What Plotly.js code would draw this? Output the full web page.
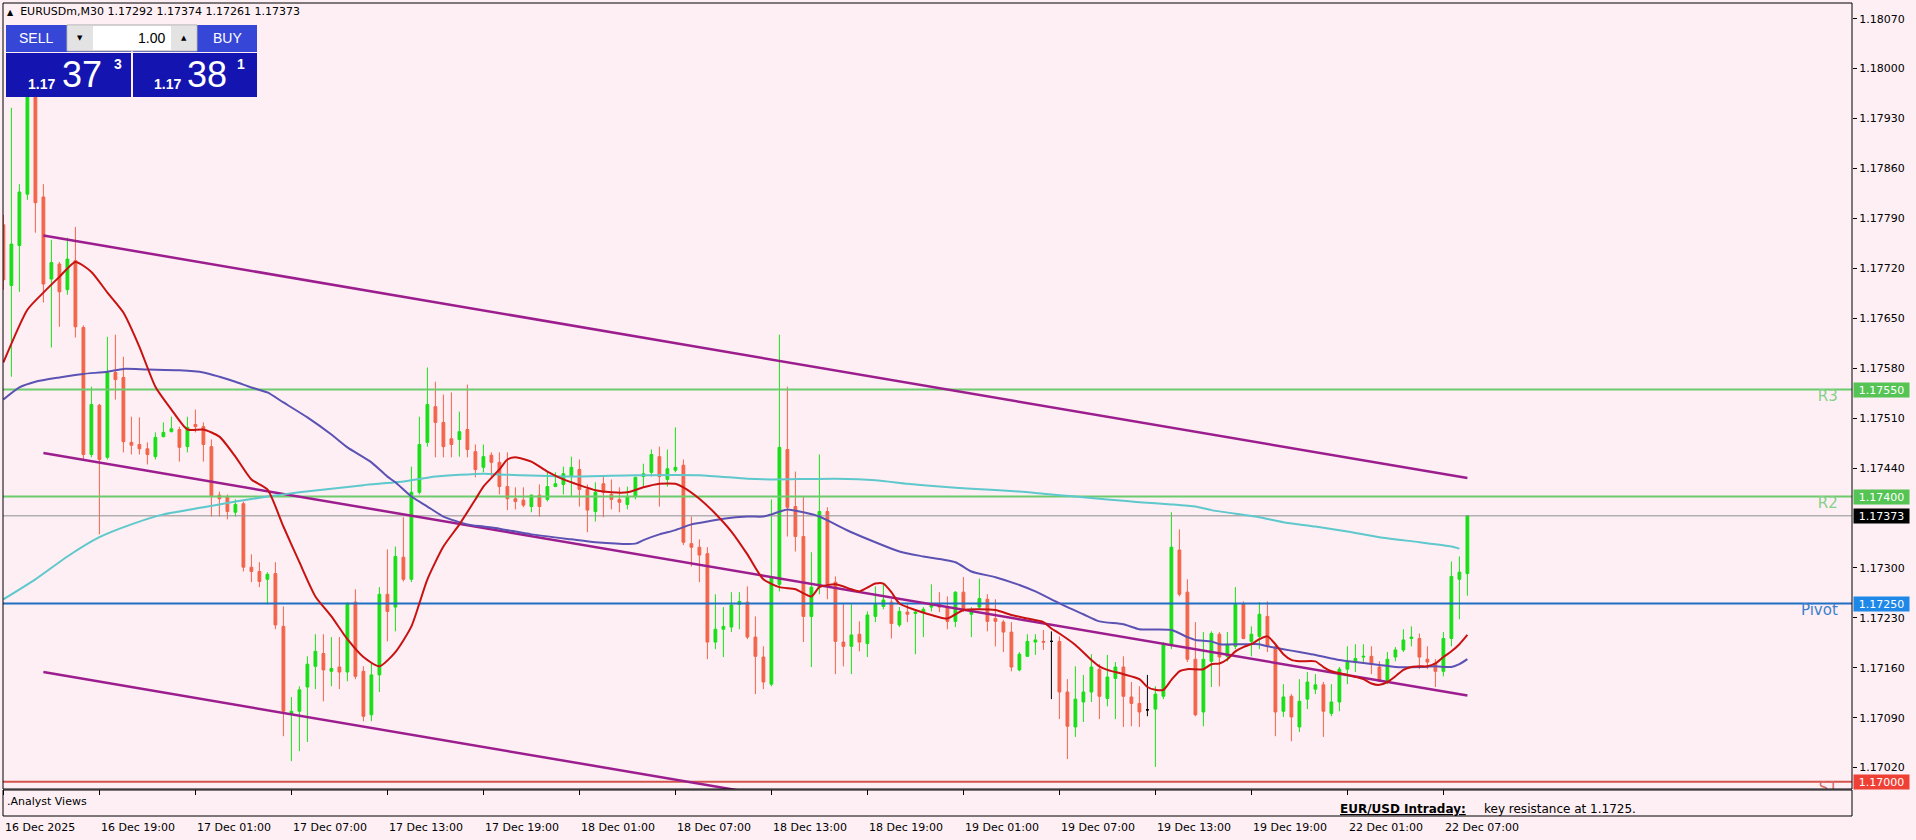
<!DOCTYPE html>
<html><head><meta charset="utf-8">
<script src="https://cdn.plot.ly/plotly-3.0.1.min.js"></script>
<style>html,body{margin:0;padding:0;background:#FDEFF3;}#chart{width:1916px;height:840px;}</style>
</head><body><div id="chart"></div>
<script>
// ---------- DATA ----------
const symbolTitle = "EURUSDm,M30 1.17292 1.17374 1.17261 1.17373";
const openP = [1.17781,1.17696,1.17752,1.17824,1.17991,1.17820,1.17705,1.17726,1.17690,1.17731,
1.17637,1.17459,1.17528,1.17455,1.17574,1.17567,1.17476,1.17473,1.17467,1.17456,
1.17484,1.17491,1.17494,1.17470,1.17501,1.17498,1.17470,1.17402,1.17400,1.17378,
1.17390,1.17301,1.17295,1.17284,1.17292,1.17218,1.17095,1.17099,1.17133,1.17162,
1.17180,1.17155,1.17161,1.17154,1.17252,1.17155,1.17094,1.17150,1.17263,1.17245,
1.17315,1.17284,1.17406,1.17476,1.17526,1.17504,1.17481,1.17480,1.17494,1.17463,
1.17441,1.17458,1.17448,1.17414,1.17397,1.17395,1.17386,1.17402,1.17396,1.17414,
1.17417,1.17428,1.17438,1.17410,1.17379,1.17418,1.17403,1.17396,1.17389,1.17400,
1.17428,1.17434,1.17456,1.17424,1.17437,1.17444,1.17334,1.17329,1.17320,1.17196,
1.17214,1.17217,1.17249,1.17252,1.17203,1.17175,1.17137,1.17277,1.17466,1.17386,
1.17344,1.17232,1.17273,1.17379,1.17280,1.17196,1.17190,1.17207,1.17194,1.17232,
1.17246,1.17252,1.17220,1.17238,1.17236,1.17238,1.17245,1.17249,1.17245,1.17225,
1.17266,1.17235,1.17245,1.17256,1.17229,1.17224,1.17210,1.17157,1.17176,1.17196,
1.17197,1.17197,1.17197,1.17126,1.17077,1.17112,1.17126,1.17158,1.17117,1.17145,
1.17161,1.17119,1.17110,1.17101,1.17102,1.17120,1.17192,1.17325,1.17266,1.17172,
1.17098,1.17169,1.17207,1.17176,1.17190,1.17250,1.17197,1.17204,1.17232,1.17189,
1.17099,1.17120,1.17077,1.17116,1.17130,1.17136,1.17096,1.17112,1.17158,1.17168,
1.17175,1.17176,1.17161,1.17141,1.17175,1.17185,1.17201,1.17201,1.17172,1.17166,
1.17155,1.17201,1.17284,1.17292];
const highP = [1.17795,1.17945,1.17838,1.18012,1.18005,1.17838,1.17760,1.17729,1.17763,1.17778,
1.17640,1.17554,1.17530,1.17624,1.17627,1.17596,1.17512,1.17511,1.17476,1.17490,
1.17504,1.17512,1.17498,1.17512,1.17522,1.17504,1.17480,1.17407,1.17403,1.17396,
1.17393,1.17319,1.17308,1.17294,1.17308,1.17246,1.17119,1.17134,1.17176,1.17207,
1.17207,1.17203,1.17203,1.17252,1.17270,1.17162,1.17168,1.17273,1.17326,1.17330,
1.17371,1.17442,1.17512,1.17581,1.17561,1.17543,1.17546,1.17519,1.17557,1.17473,
1.17473,1.17462,1.17462,1.17462,1.17413,1.17413,1.17403,1.17417,1.17434,1.17434,
1.17442,1.17456,1.17452,1.17417,1.17420,1.17428,1.17424,1.17413,1.17414,1.17428,
1.17446,1.17466,1.17470,1.17466,1.17497,1.17452,1.17372,1.17340,1.17329,1.17263,
1.17245,1.17266,1.17266,1.17274,1.17232,1.17190,1.17396,1.17627,1.17554,1.17435,
1.17400,1.17322,1.17459,1.17385,1.17288,1.17249,1.17249,1.17225,1.17239,1.17274,
1.17277,1.17256,1.17245,1.17249,1.17242,1.17245,1.17277,1.17266,1.17260,1.17267,
1.17287,1.17245,1.17285,1.17263,1.17256,1.17227,1.17224,1.17182,1.17207,1.17207,
1.17213,1.17211,1.17204,1.17144,1.17162,1.17150,1.17179,1.17165,1.17178,1.17168,
1.17176,1.17140,1.17134,1.17150,1.17134,1.17196,1.17378,1.17354,1.17284,1.17224,
1.17210,1.17211,1.17210,1.17210,1.17273,1.17253,1.17218,1.17252,1.17253,1.17193,
1.17137,1.17123,1.17144,1.17154,1.17151,1.17140,1.17137,1.17161,1.17190,1.17193,
1.17193,1.17190,1.17169,1.17182,1.17189,1.17214,1.17218,1.17208,1.17190,1.17172,
1.17210,1.17309,1.17316,1.17374];
const lowP = [1.17690,1.17568,1.17687,1.17816,1.17770,1.17672,1.17609,1.17638,1.17683,1.17623,
1.17452,1.17455,1.17347,1.17452,1.17536,1.17462,1.17459,1.17459,1.17445,1.17452,
1.17483,1.17490,1.17449,1.17462,1.17490,1.17449,1.17372,1.17372,1.17368,1.17372,
1.17295,1.17280,1.17273,1.17249,1.17214,1.17064,1.17029,1.17043,1.17056,1.17130,
1.17113,1.17134,1.17130,1.17141,1.17144,1.17085,1.17085,1.17126,1.17197,1.17211,
1.17281,1.17280,1.17403,1.17470,1.17455,1.17455,1.17455,1.17456,1.17455,1.17427,
1.17434,1.17428,1.17403,1.17381,1.17382,1.17385,1.17378,1.17372,1.17393,1.17414,
1.17403,1.17400,1.17386,1.17350,1.17365,1.17371,1.17382,1.17378,1.17382,1.17396,
1.17414,1.17428,1.17386,1.17414,1.17434,1.17332,1.17302,1.17280,1.17172,1.17186,
1.17175,1.17210,1.17214,1.17200,1.17123,1.17130,1.17134,1.17267,1.17344,1.17323,
1.17196,1.17161,1.17263,1.17256,1.17151,1.17162,1.17151,1.17183,1.17175,1.17224,
1.17242,1.17201,1.17217,1.17224,1.17179,1.17203,1.17239,1.17238,1.17214,1.17217,
1.17238,1.17203,1.17242,1.17211,1.17190,1.17182,1.17155,1.17155,1.17175,1.17178,
1.17185,1.17116,1.17088,1.17032,1.17063,1.17084,1.17112,1.17088,1.17106,1.17088,
1.17077,1.17078,1.17077,1.17092,1.17021,1.17116,1.17186,1.17260,1.17168,1.17092,
1.17078,1.17133,1.17134,1.17169,1.17186,1.17200,1.17176,1.17186,1.17182,1.17064,
1.17091,1.17057,1.17070,1.17102,1.17123,1.17063,1.17092,1.17099,1.17137,1.17154,
1.17168,1.17151,1.17140,1.17137,1.17169,1.17182,1.17190,1.17158,1.17158,1.17133,
1.17148,1.17190,1.17228,1.17261];
const closeP = [1.17704,1.17754,1.17827,1.17991,1.17812,1.17698,1.17728,1.17687,1.17733,1.17638,
1.17459,1.17529,1.17452,1.17574,1.17564,1.17477,1.17472,1.17467,1.17459,1.17483,
1.17490,1.17495,1.17469,1.17497,1.17498,1.17473,1.17400,1.17397,1.17379,1.17389,
1.17301,1.17295,1.17281,1.17291,1.17220,1.17099,1.17099,1.17129,1.17165,1.17183,
1.17157,1.17159,1.17154,1.17249,1.17148,1.17092,1.17150,1.17263,1.17239,1.17316,
1.17284,1.17406,1.17473,1.17529,1.17504,1.17470,1.17473,1.17491,1.17466,1.17438,
1.17456,1.17448,1.17414,1.17397,1.17393,1.17388,1.17402,1.17386,1.17414,1.17418,
1.17432,1.17441,1.17410,1.17381,1.17406,1.17406,1.17396,1.17392,1.17400,1.17427,
1.17432,1.17459,1.17428,1.17439,1.17441,1.17336,1.17329,1.17318,1.17196,1.17214,
1.17218,1.17248,1.17253,1.17203,1.17176,1.17140,1.17287,1.17469,1.17385,1.17344,
1.17232,1.17273,1.17379,1.17277,1.17197,1.17190,1.17206,1.17196,1.17234,1.17249,
1.17255,1.17222,1.17239,1.17235,1.17238,1.17242,1.17249,1.17245,1.17225,1.17266,
1.17242,1.17239,1.17257,1.17225,1.17225,1.17210,1.17161,1.17179,1.17197,1.17199,
1.17196,1.17197,1.17126,1.17078,1.17116,1.17126,1.17161,1.17120,1.17147,1.17161,
1.17120,1.17110,1.17098,1.17101,1.17123,1.17192,1.17329,1.17263,1.17172,1.17094,
1.17172,1.17208,1.17175,1.17193,1.17249,1.17201,1.17207,1.17235,1.17190,1.17098,
1.17119,1.17091,1.17113,1.17140,1.17136,1.17099,1.17112,1.17158,1.17168,1.17173,
1.17176,1.17165,1.17141,1.17172,1.17185,1.17199,1.17203,1.17175,1.17168,1.17155,
1.17201,1.17288,1.17294,1.17373];

// moving averages (bar index, price)
const fastMaBars = [0,3,5,7,9,11,13,15,17,19,21,23,25,27,29,31,33,35,37,39,41,43,45,47,49,51,53,55,57,59,60,62,63,64,66,68,70,72,74,76,78,80,82,84,85,87,89,91,93,95,97,99,101,102,104,106,107,109,110,111,112,114,116,118,120,122,124,126,128,130,131,132,134,136,137,138,140,142,143,144,145,146,147,148,150,151,152,153,154,155,156,157,158,159,160,161,162,164,165,166,168,170,171,172,173,174,175,176,177,178,179,180,181,182,183];
const fastMaVals = [1.17588,1.17662,1.17686,1.17708,1.17729,1.17715,1.17686,1.17658,1.17610,1.17554,1.17522,1.17494,1.17494,1.17484,1.17456,1.17424,1.17410,1.17358,1.17308,1.17260,1.17232,1.17200,1.17175,1.17162,1.17182,1.17218,1.17284,1.17330,1.17361,1.17396,1.17414,1.17438,1.17452,1.17455,1.17449,1.17435,1.17424,1.17416,1.17409,1.17406,1.17406,1.17413,1.17418,1.17418,1.17413,1.17397,1.17376,1.17351,1.17319,1.17284,1.17273,1.17270,1.17260,1.17273,1.17277,1.17270,1.17267,1.17278,1.17278,1.17266,1.17250,1.17241,1.17234,1.17229,1.17241,1.17242,1.17241,1.17234,1.17229,1.17224,1.17215,1.17208,1.17192,1.17171,1.17162,1.17157,1.17151,1.17144,1.17133,1.17129,1.17129,1.17143,1.17155,1.17158,1.17158,1.17165,1.17166,1.17172,1.17183,1.17189,1.17193,1.17200,1.17204,1.17193,1.17179,1.17171,1.17169,1.17169,1.17161,1.17155,1.17150,1.17144,1.17138,1.17136,1.17140,1.17148,1.17157,1.17161,1.17162,1.17162,1.17166,1.17175,1.17183,1.17193,1.17206];
const midMaBars = [0,2,4,7,10,13,15,18,22,25,27,29,31,33,35,38,41,43,46,48,49,51,53,55,58,60,62,66,71,74,79,80,82,84,86,88,90,93,95,96,98,100,102,104,106,109,112,115,119,121,124,127,129,131,133,135,137,140,142,146,148,149,151,152,155,157,158,160,162,164,167,169,172,174,177,179,181,182,183];
const midMaVals = [1.17536,1.17553,1.17561,1.17567,1.17572,1.17575,1.17579,1.17578,1.17577,1.17574,1.17568,1.17561,1.17553,1.17546,1.17532,1.17511,1.17487,1.17469,1.17448,1.17428,1.17420,1.17400,1.17386,1.17372,1.17361,1.17358,1.17355,1.17347,1.17340,1.17336,1.17334,1.17339,1.17347,1.17353,1.17361,1.17365,1.17369,1.17372,1.17372,1.17375,1.17382,1.17378,1.17372,1.17361,1.17350,1.17336,1.17323,1.17316,1.17308,1.17295,1.17287,1.17276,1.17267,1.17256,1.17245,1.17235,1.17225,1.17221,1.17214,1.17213,1.17203,1.17199,1.17197,1.17193,1.17193,1.17193,1.17190,1.17186,1.17182,1.17178,1.17171,1.17168,1.17164,1.17161,1.17161,1.17162,1.17161,1.17165,1.17172];
const slowMaBars = [0,4,8,12,16,20,25,29,33,37,41,45,50,54,60,62,71,79,87,93,96,104,109,113,117,121,127,130,134,138,142,146,149,151,154,157,160,164,168,172,177,181,182];
const slowMaVals = [1.17256,1.17284,1.17316,1.17343,1.17361,1.17375,1.17385,1.17393,1.17400,1.17406,1.17411,1.17416,1.17421,1.17428,1.17432,1.17431,1.17428,1.17430,1.17430,1.17425,1.17424,1.17425,1.17423,1.17418,1.17414,1.17411,1.17407,1.17404,1.17400,1.17396,1.17392,1.17389,1.17386,1.17381,1.17376,1.17371,1.17364,1.17358,1.17351,1.17343,1.17336,1.17330,1.17327];

// channel lines (start bar / end bar, prices)
const channelBars = [5, 183];
const channelUpper = [1.17766, 1.17426];
const channelMiddle = [1.17461, 1.17121];
const channelLower = [1.17154, 1.16814];

// pivot levels
const levelNames = ["R3", "R2", "Pivot", "S1"];
const levelValues = [1.17550, 1.17400, 1.17250, 1.17000];
const bidPrice = 1.17373;

// axes
const timeTickBars = [0,12,24,36,48,60,72,84,96,108,120,132,144,156,168,180];
const timeTickLabels = ["16 Dec 2025","16 Dec 19:00","17 Dec 01:00","17 Dec 07:00","17 Dec 13:00","17 Dec 19:00","18 Dec 01:00","18 Dec 07:00","18 Dec 13:00","18 Dec 19:00","19 Dec 01:00","19 Dec 07:00","19 Dec 13:00","19 Dec 19:00","22 Dec 01:00","22 Dec 07:00"];
const priceTicks = [1.18070,1.18000,1.17930,1.17860,1.17790,1.17720,1.17650,1.17580,1.17510,1.17440,1.17300,1.17230,1.17160,1.17090,1.17020];

// trade panel
const sellBig = "37", sellSup = "3", buyBig = "38", buySup = "1", pricePrefix = "1.17", lotSize = "1.00";
const analystHead = "EUR/USD Intraday:";
const analystText = "key resistance at 1.1725.";

// ---------- STYLE ----------
const BG = "#FDEFF3";
const UP = "#19DF19", DN = "#F2644B";
const levelColors = ["#6CCB6C", "#6CCB6C", "#1F6FC2", "#D4544C"];
const levelTextColors = ["#86D08A", "#86D08A", "#3F7FCC", "#D86A66"];
const levelBoxColors = ["#55C455", "#55C455", "#1E88E8", "#EE4035"];
const FONT = "DejaVu Sans";

const L = 3, T = 3, W = 1849, H = 813;
const px = x => (x - L) / W;
const py = y => (T + H - y) / H;

// ---------- TRACES ----------
const idx = openP.map((_, i) => i);
const normal = idx.filter(i => openP[i] !== closeP[i]);
const doji = idx.filter(i => openP[i] === closeP[i]);
const pick = (arr, ids) => ids.map(i => arr[i]);

const traces = [];
const xEnds = [-2, 240];
levelValues.forEach((v, k) => {
  traces.push({type: "scatter", mode: "lines", x: xEnds, y: [v, v], xaxis: "x", yaxis: "y",
    line: {color: levelColors[k], width: 2}, hoverinfo: "skip", showlegend: false});
});
traces.push({type: "scatter", mode: "lines", x: xEnds, y: [bidPrice, bidPrice],
  line: {color: "#8E8E8E", width: 1}, hoverinfo: "skip", showlegend: false});

traces.push({type: "candlestick", x: normal, open: pick(openP, normal), high: pick(highP, normal),
  low: pick(lowP, normal), close: pick(closeP, normal), whiskerwidth: 0,
  increasing: {line: {color: UP, width: 1}, fillcolor: UP},
  decreasing: {line: {color: DN, width: 1}, fillcolor: DN},
  hoverinfo: "skip", showlegend: false});
traces.push({type: "candlestick", x: doji, open: pick(openP, doji), high: pick(highP, doji),
  low: pick(lowP, doji), close: pick(closeP, doji), whiskerwidth: 0,
  increasing: {line: {color: "#000000", width: 1}, fillcolor: "#000000"},
  decreasing: {line: {color: "#000000", width: 1}, fillcolor: "#000000"},
  hoverinfo: "skip", showlegend: false});

[channelUpper, channelMiddle, channelLower].forEach(c => {
  traces.push({type: "scatter", mode: "lines", x: channelBars, y: c,
    line: {color: "#9C1E8E", width: 2.5}, hoverinfo: "skip", showlegend: false});
});
traces.push({type: "scatter", mode: "lines", x: slowMaBars, y: slowMaVals,
  line: {color: "#5EC8CC", width: 2, shape: "spline", smoothing: 0.6}, hoverinfo: "skip", showlegend: false});
traces.push({type: "scatter", mode: "lines", x: midMaBars, y: midMaVals,
  line: {color: "#5B52B4", width: 2, shape: "spline", smoothing: 0.6}, hoverinfo: "skip", showlegend: false});
traces.push({type: "scatter", mode: "lines", x: fastMaBars, y: fastMaVals,
  line: {color: "#C81212", width: 2, shape: "spline", smoothing: 0.6}, hoverinfo: "skip", showlegend: false});

levelNames.forEach((n, k) => {
  traces.push({type: "scatter", mode: "text", x: [229.3], y: [levelValues[k]], text: [n],
    textposition: "bottom left", cliponaxis: true,
    textfont: {family: FONT, size: 15, color: levelTextColors[k]}, hoverinfo: "skip", showlegend: false});
});

// ---------- SHAPES ----------
const rect = (x0, y0, x1, y1, fill, line) => ({type: "rect", xref: "paper", yref: "paper",
  x0: px(x0), x1: px(x1), y0: py(y1), y1: py(y0), fillcolor: fill,
  line: line ? {color: line, width: 1} : {width: 0}, layer: "above"});
const shapes = [
  {type: "rect", xref: "paper", yref: "paper", x0: 0, x1: 1, y0: py(789), y1: 1, line: {color: "#000", width: 1}, fillcolor: "rgba(0,0,0,0)"},
  {type: "rect", xref: "paper", yref: "paper", x0: 0, x1: 1, y0: 0, y1: py(790), line: {color: "#000", width: 1}, fillcolor: "rgba(0,0,0,0)"},
  rect(6, 25, 131, 52, "#3646D6"),
  rect(133, 25, 257, 52, "#3646D6"),
  rect(6, 53, 131, 97, "#1414B0"),
  rect(133, 53, 257, 97, "#1414B0"),
  rect(67, 25, 197, 51, "#FFFFFF", "#A8A8A8"),
  rect(68, 26, 93, 50, "#E3E3E3"),
  rect(171, 26, 196, 50, "#E3E3E3"),
];

// ---------- ANNOTATIONS ----------
const ann = [];
const txt = (text, x, y, size, color, xanchor, extra) => Object.assign({xref: "paper", yref: "paper",
  x: px(x), y: py(y), text, showarrow: false, xanchor: xanchor || "left", yanchor: "middle",
  font: {family: FONT, size, color}}, extra || {});

ann.push(txt('<span style="font-size:8px">▲</span>  ' + symbolTitle, 5, 12, 11, "#000"));
const PF = "Liberation Sans";
ann.push(txt("SELL", 36, 38, 13, "#FFFFFF", "center", {font: {family: PF, size: 14, color: "#FFF"}}));
ann.push(txt("BUY", 227, 38, 13, "#FFFFFF", "center", {font: {family: PF, size: 14, color: "#FFF"}}));
ann.push(txt(lotSize, 167, 38, 13, "#000", "right", {font: {family: PF, size: 14, color: "#000"}}));
ann.push(txt("▼", 80, 38, 7, "#000", "center"));
ann.push(txt("▲", 184, 38, 7, "#000", "center"));
ann.push(txt("<b>" + pricePrefix + "</b>", 26, 84, 14, "#FFF", "left", {font: {family: PF, size: 14, color: "#FFF"}}));
ann.push(txt(sellBig, 60, 74, 36, "#FFF", "left", {font: {family: PF, size: 36, color: "#FFF"}}));
ann.push(txt("<b>" + sellSup + "</b>", 112, 64, 13, "#FFF", "left", {font: {family: PF, size: 14, color: "#FFF"}}));
ann.push(txt("<b>" + pricePrefix + "</b>", 152, 84, 14, "#FFF", "left", {font: {family: PF, size: 14, color: "#FFF"}}));
ann.push(txt(buyBig, 185, 74, 36, "#FFF", "left", {font: {family: PF, size: 36, color: "#FFF"}}));
ann.push(txt("<b>" + buySup + "</b>", 235, 64, 13, "#FFF", "left", {font: {family: PF, size: 14, color: "#FFF"}}));

ann.push(txt(".Analyst Views", 5, 801, 11, "#000"));
ann.push(txt("<b><u>" + analystHead + "</u></b>", 1338, 809, 12, "#000"));
ann.push(txt(analystText, 1482, 809, 12, "#000"));

// price boxes on the right axis
levelValues.forEach((v, k) => {
  ann.push({xref: "paper", yref: "y", x: 1, y: v, xanchor: "left", yanchor: "middle", xshift: 1,
    text: v.toFixed(5), showarrow: false, bgcolor: levelBoxColors[k], width: 55, height: 14,
    borderpad: 0, align: "center", font: {family: FONT, size: 11, color: "#FFFFFF"}});
});
ann.push({xref: "paper", yref: "y", x: 1, y: bidPrice, xanchor: "left", yanchor: "middle", xshift: 1,
  text: bidPrice.toFixed(5), showarrow: false, bgcolor: "#000000", width: 55, height: 14,
  borderpad: 0, align: "center", font: {family: FONT, size: 11, color: "#FFFFFF"}});

// time labels (left-aligned at ticks like MT4)
timeTickBars.forEach((b, k) => {
  ann.push({xref: "x", yref: "paper", x: b, y: 0, xanchor: "left", yanchor: "top", yshift: -3,
    text: timeTickLabels[k], showarrow: false, font: {family: FONT, size: 11, color: "#000"}});
});

// ---------- LAYOUT ----------
const layout = {
  width: 1916, height: 840,
  margin: {l: L, r: 1916 - L - W, t: T, b: 840 - T - H, pad: 0},
  paper_bgcolor: BG, plot_bgcolor: BG,
  showlegend: false, hovermode: false, boxgap: 0.5,
  xaxis: {range: [-0.05, 231.075], anchor: "y2", showgrid: false, zeroline: false, showline: false,
    tickvals: timeTickBars, ticktext: timeTickBars.map(() => ""), ticks: "outside", ticklen: 5,
    tickcolor: "#000", showticklabels: false, rangeslider: {visible: false}, fixedrange: true},
  yaxis: {domain: [py(789), 1], range: [1.1699, 1.18092], side: "right", anchor: "x",
    tickvals: priceTicks, ticktext: priceTicks.map(v => v.toFixed(5)), ticks: "outside", ticklen: 4,
    tickcolor: "#000", tickfont: {family: FONT, size: 11, color: "#000"}, showgrid: false,
    zeroline: false, showline: false, fixedrange: true},
  yaxis2: {domain: [0, py(790)], range: [-0.9, 1.7], side: "right", anchor: "x",
    tickvals: [0, 1], ticktext: ["0", "1"], ticks: "outside", ticklen: 3, tickcolor: "#000",
    tickfont: {family: FONT, size: 10, color: "#000"}, showgrid: false, zeroline: false, showline: false, fixedrange: true},
  shapes, annotations: ann
};

Plotly.newPlot("chart", traces, layout, {staticPlot: true, displayModeBar: false});
</script>
</body></html>
